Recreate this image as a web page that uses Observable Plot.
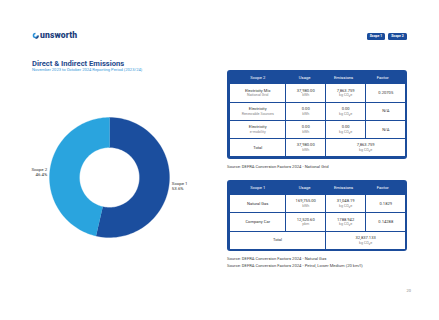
<!DOCTYPE html>
<html><head><meta charset="utf-8">
<script src="https://cdn.jsdelivr.net/npm/d3@7"></script>
<script src="https://cdn.jsdelivr.net/npm/@observablehq/plot@0.6"></script>
<style>
html,body{margin:0;padding:0;background:#fff;}
body{width:439px;height:320px;position:relative;overflow:hidden;font-family:Roboto,"Noto Sans",sans-serif;}
.abs{position:absolute;}
.logo{left:32px;top:30px;font-weight:900;font-size:8.6px;color:#1d3f7c;letter-spacing:0.1px;display:flex;align-items:center;gap:1px;}
.title{left:32px;top:58.5px;font-weight:700;font-size:7.6px;color:#1f4a8c;white-space:nowrap;}
.sub{left:32px;top:67.3px;font-size:4.1px;color:#3a9ad9;white-space:nowrap;}
.btn{top:32.5px;height:7px;width:18.5px;background:#1b4c9b;color:#fff;border-radius:1.5px;font-size:3.4px;font-weight:700;display:flex;align-items:center;justify-content:center;}
.tbl{left:226.7px;width:180px;background:#1b4c9b;border-radius:3px;box-sizing:border-box;padding:0 3px 2px 3.3px;}
.hdr{display:grid;grid-template-columns:55.5px 38.5px 39.3px 39px;color:#fff;font-size:4.2px;align-items:center;text-align:center;}
.grid{display:grid;grid-template-columns:55.5px 38.5px 39.3px 39px;gap:1px;}
.cell{background:#fff;display:flex;flex-direction:column;align-items:center;justify-content:center;font-size:4.1px;color:#333;line-height:1.4;text-align:center;}
.cell .s{color:#888;font-size:3.7px;}
.src{left:227px;font-size:4.15px;color:#444;white-space:nowrap;}
.pg{left:406.5px;top:287.5px;font-size:3.9px;color:#888;}
</style></head>
<body>
<div class="abs logo"><svg width="7" height="7" viewBox="0 0 10 10"><path d="M5 1a4 4 0 1 0 4 4h-2.2a1.8 1.8 0 1 1-1.8-1.8z" fill="#2a8fd6"/><path d="M5 9a4 4 0 0 0 4-4" stroke="#1d3f7c" stroke-width="1.6" fill="none"/></svg><span>unsworth</span></div>
<div class="abs title">Direct &amp; Indirect Emissions</div>
<div class="abs sub">November 2023 to October 2024 Reporting Period (2023/24)</div>
<div class="abs btn" style="left:366.7px">Scope 1</div>
<div class="abs btn" style="left:388.2px">Scope 2</div>
<div id="t2" class="abs tbl" style="top:70px;height:89.3px"></div>
<div class="abs src" style="top:163.5px">Source: DEFRA Conversion Factors 2024 - National Grid</div>
<div id="t1" class="abs tbl" style="top:180px;height:71px"></div>
<div class="abs src" style="top:255.8px">Source: DEFRA Conversion Factors 2024 - Natural Gas</div>
<div class="abs src" style="top:262.5px">Source: DEFRA Conversion Factors 2024 - Petrol, Lower Medium (20 km/l)</div>
<div class="abs pg">20</div>
<div id="chart" class="abs" style="left:19.3px;top:87.3px"></div>
<script>
// ---- Donut data ----
const scopes = ["Scope 1", "Scope 2"];
const shares = [53.6, 46.4];
const scopeColors = ["#1b4e9e", "#2aa4de"];

// ---- Table data ----
const headers2 = ["Scope 2", "Usage", "Emissions", "Factor"];
const rows2Name = ["Electricity Mix", "Electricity", "Electricity"];
const rows2Sub = ["National Grid", "Renewable Sources", "e-mobility"];
const rows2Usage = ["37,980.00", "0.00", "0.00"];
const rows2Unit = ["kWh", "kWh", "kWh"];
const rows2Emis = ["7,863.759", "0.00", "0.00"];
const rows2Factor = ["0.20705", "N/A", "N/A"];
const total2Usage = "37,980.00";
const total2Emis = "7,863.759";

const headers1 = ["Scope 1", "Usage", "Emissions", "Factor"];
const rows1Name = ["Natural Gas", "Company Car"];
const rows1Usage = ["169,755.00", "12,520.60"];
const rows1Unit = ["kWh", "pkm"];
const rows1Emis = ["31,048.19", "1788.942"];
const rows1Factor = ["0.1829", "0.14288"];
const total1Emis = "32,837.133";
const emisUnit = "kg CO\u2082e";

// ---- Donut ----
const pie = d3.pie().sort(null).value(d => d.value)(scopes.map((k, i) => ({key: k, value: shares[i]})));
const R = 1, r0 = 0.5;
const ring = [];
for (const a of pie) {
  const n = 80;
  for (let i = 0; i <= n; i++) {
    const t = a.startAngle + (a.endAngle - a.startAngle) * i / n;
    ring.push({key: a.data.key, x: R * Math.sin(t), y: R * Math.cos(t)});
  }
  for (let i = n; i >= 0; i--) {
    const t = a.startAngle + (a.endAngle - a.startAngle) * i / n;
    ring.push({key: a.data.key, x: r0 * Math.sin(t), y: r0 * Math.cos(t)});
  }
}
const labels = pie.map(a => {
  const m = (a.startAngle + a.endAngle) / 2;
  return {x: 1.045 * Math.sin(m), y: 1.045 * Math.cos(m) - 0.02,
          text: a.data.key + "\n" + a.data.value.toFixed(1) + "%",
          anchor: Math.sin(m) >= 0 ? "start" : "end"};
});

const chart = Plot.plot({
  width: 180, height: 180, margin: 0,
  x: {domain: [-1.5, 1.5], axis: null},
  y: {domain: [-1.5, 1.5], axis: null},
  color: {domain: scopes, range: scopeColors},
  style: {fontFamily: "Roboto, sans-serif", background: "transparent"},
  marks: [
    Plot.line(ring, {x: "x", y: "y", z: "key", fill: "key", stroke: "key", strokeWidth: 0.3, curve: "linear"}),
    Plot.text(labels.filter(d => d.anchor === "start"), {x: "x", y: "y", text: "text", textAnchor: "start", lineHeight: 1.2, fontSize: 4.4, fill: "#333"}),
    Plot.text(labels.filter(d => d.anchor === "end"), {x: "x", y: "y", text: "text", textAnchor: "end", lineHeight: 1.2, fontSize: 4.4, fill: "#333"})
  ]
});
document.getElementById("chart").appendChild(chart);

// ---- Tables ----
function cell(main, sub, span) {
  const c = document.createElement("div");
  c.className = "cell";
  if (span) c.style.gridColumn = "span " + span;
  c.innerHTML = "<div>" + main + "</div>" + (sub ? "<div class='s'>" + sub + "</div>" : "");
  return c;
}
function build(el, headers, hdrH, rowH, rows, totals) {
  const h = document.createElement("div");
  h.className = "hdr"; h.style.height = hdrH + "px";
  headers.forEach(t => { const d = document.createElement("div"); d.textContent = t; h.appendChild(d); });
  el.appendChild(h);
  const g = document.createElement("div");
  g.className = "grid";
  g.style.gridAutoRows = rowH + "px";
  rows.forEach(r => r.forEach(c => g.appendChild(cell(c[0], c[1], c[2]))));
  totals.forEach(c => g.appendChild(cell(c[0], c[1], c[2])));
  el.appendChild(g);
}
build(document.getElementById("t2"), headers2, 14.3, 17.3,
  rows2Name.map((n, i) => [[n, rows2Sub[i]], [rows2Usage[i], rows2Unit[i]], [rows2Emis[i], emisUnit], [rows2Factor[i]]]),
  [["Total"], [total2Usage, "kWh"], [total2Emis, emisUnit, 2]]);
build(document.getElementById("t1"), headers1, 15, 17.3,
  rows1Name.map((n, i) => [[n], [rows1Usage[i], rows1Unit[i]], [rows1Emis[i], emisUnit], [rows1Factor[i]]]),
  [["Total", null, 2], [total1Emis, emisUnit, 2]]);
</script>
</body></html>
